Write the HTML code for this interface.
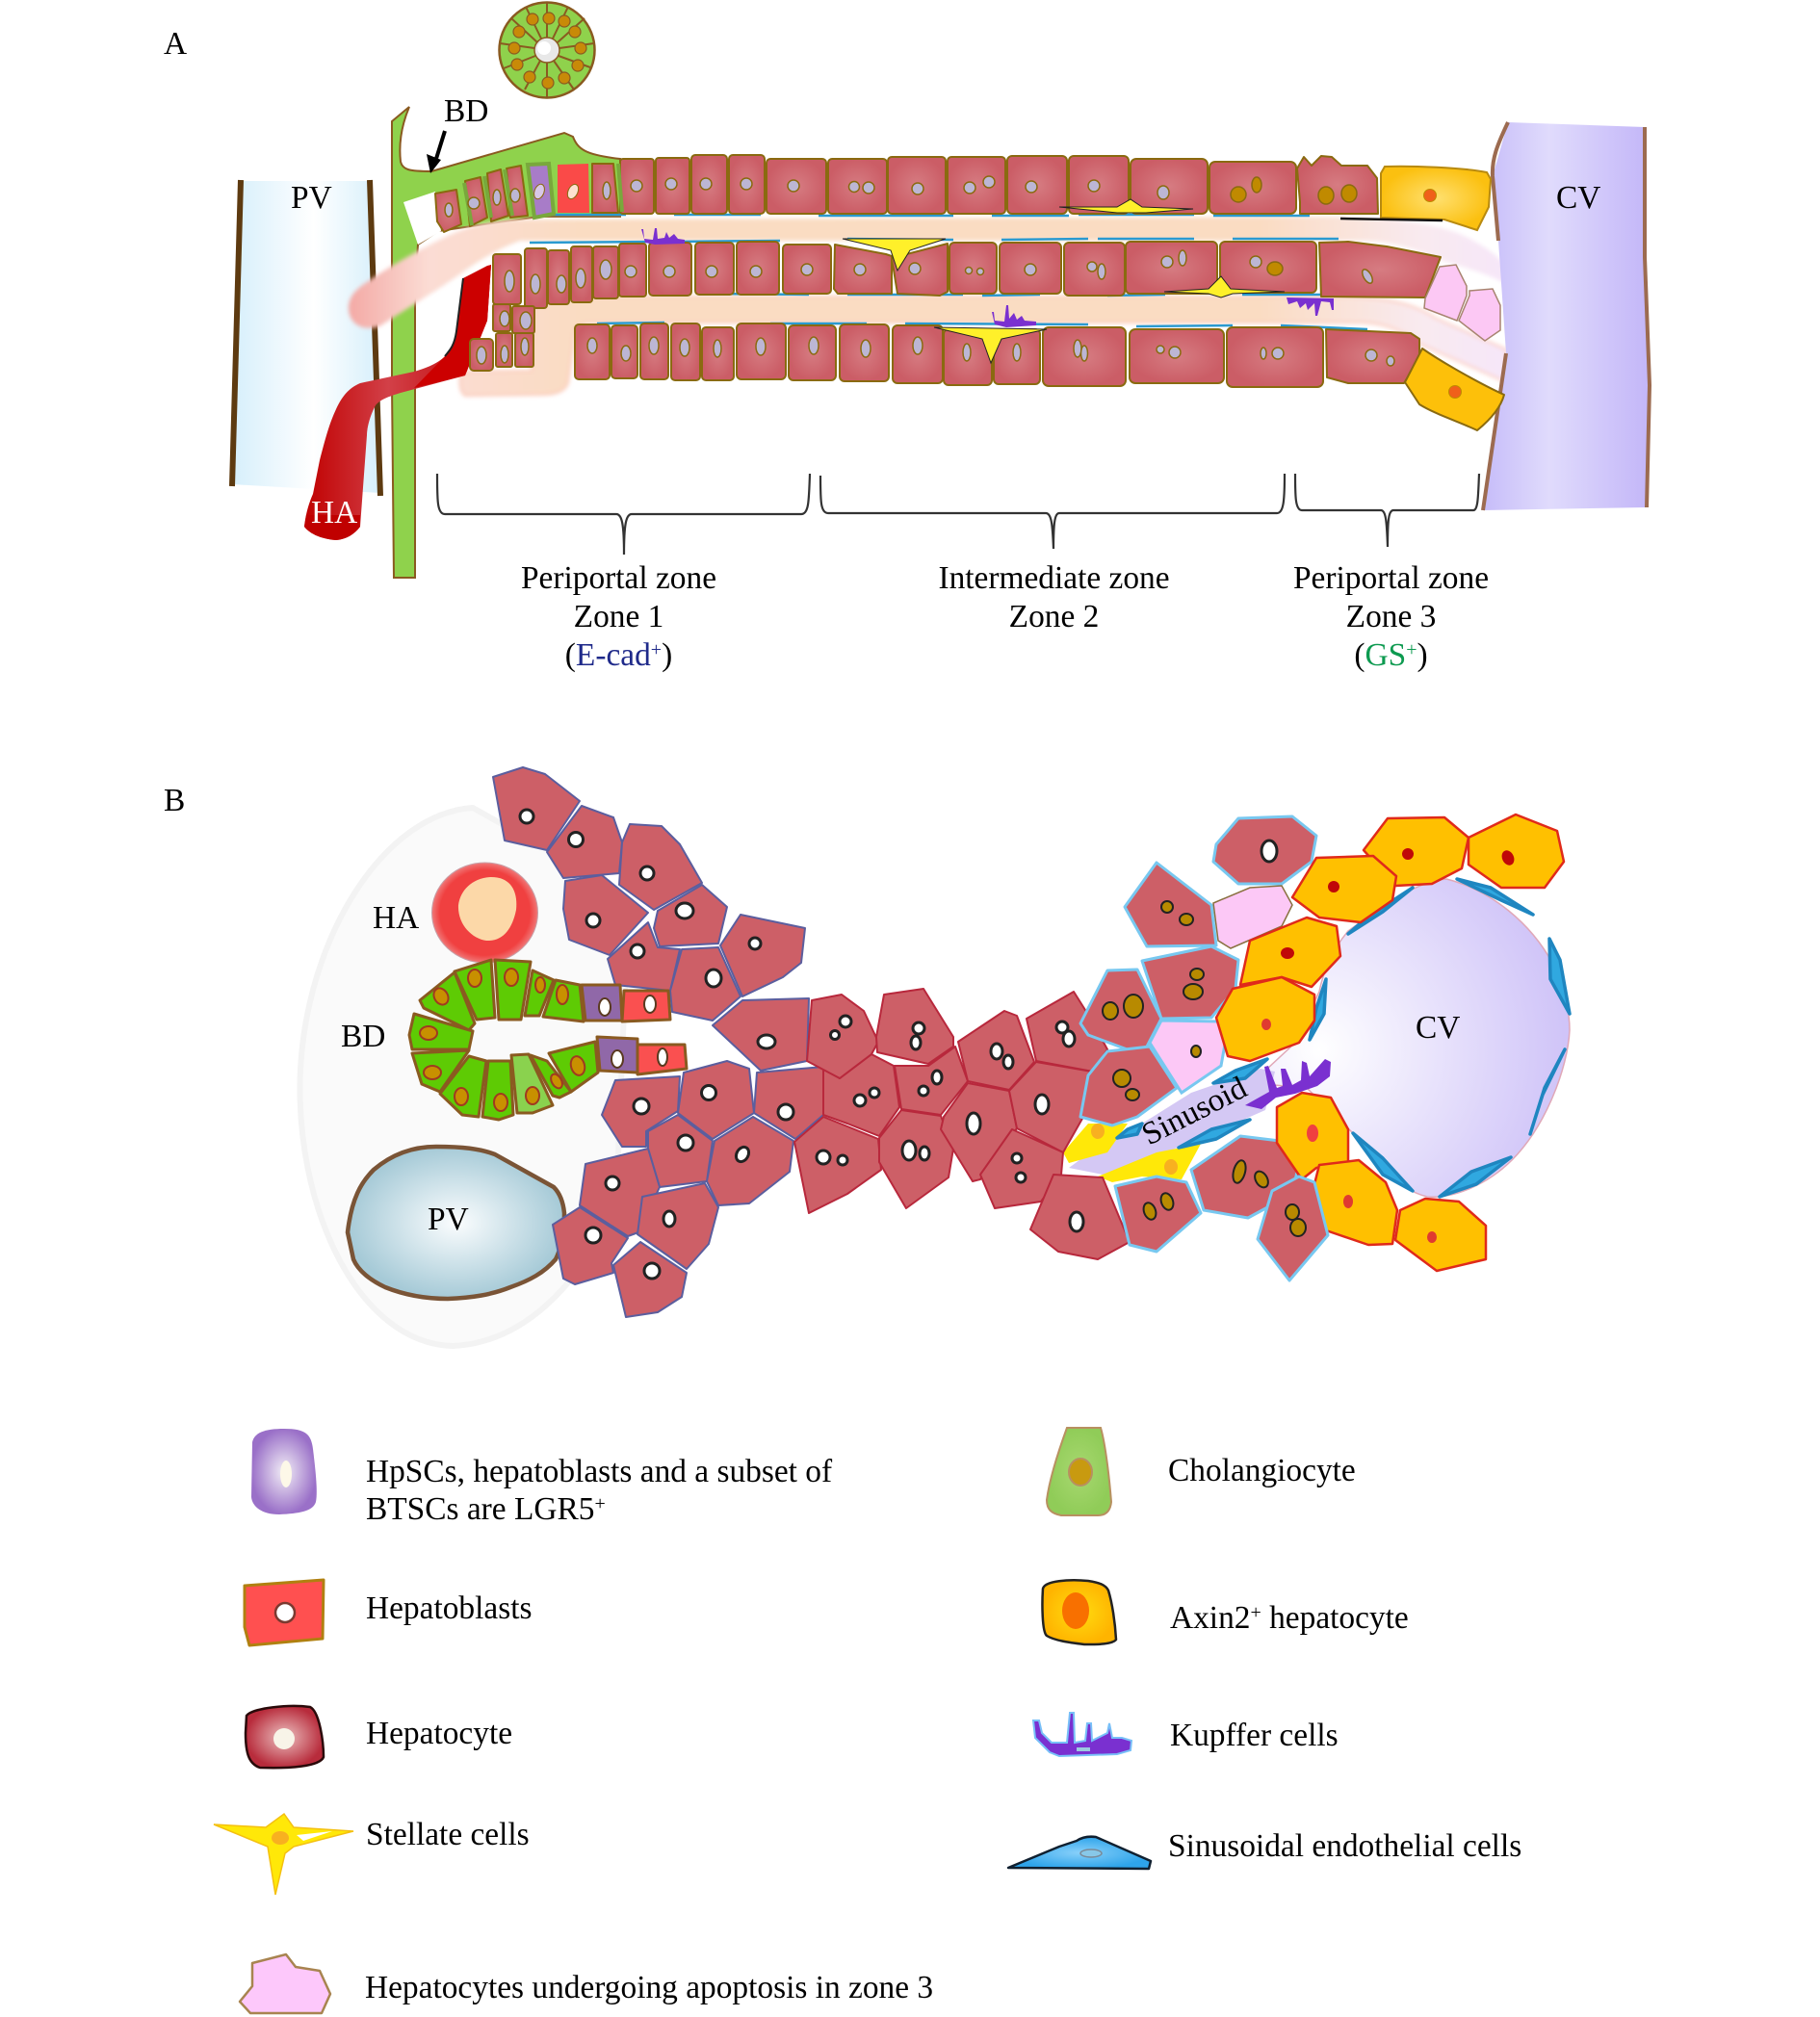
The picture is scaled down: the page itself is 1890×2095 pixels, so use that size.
<!DOCTYPE html>
<html><head><meta charset="utf-8"><title>Liver zonation</title>
<style>
html,body{margin:0;padding:0;background:#fff}
svg{display:block}
text{font-family:"Liberation Serif",serif;font-size:33.4px;fill:#000}
.h polygon{fill:#cd5f67;stroke:#5b5e9e;stroke-width:2;stroke-linejoin:round}
.hr polygon{fill:#cd5f67;stroke:#b8283c;stroke-width:2;stroke-linejoin:round}
.hb polygon{fill:#cd5f67;stroke:#78c8f0;stroke-width:3;stroke-linejoin:round}
.ax polygon{fill:#ffc000;stroke:#e02a1a;stroke-width:2.5;stroke-linejoin:round}
.bd polygon{fill:#5ecb04;stroke:#8a5a20;stroke-width:3;stroke-linejoin:round}
.wn ellipse,.wn circle{fill:#fff;stroke:#222;stroke-width:3}
.bn ellipse{fill:#b88a00;stroke:#222;stroke-width:2}
.on ellipse{fill:#c89000;stroke:#a03a20;stroke-width:2}
.en polygon{fill:#30a8e0;stroke:#1f86c0;stroke-width:3.5;stroke-linejoin:round}
.c rect,.c polygon{fill:url(#cg);stroke:#8a6a10;stroke-width:2;stroke-linejoin:round}
.n circle,.n ellipse{fill:#bcb6d4;stroke:#8a6a10;stroke-width:1.5}
.st polygon{fill:#fff02a;stroke:#222;stroke-width:1}
.bl path{fill:none;stroke:#2a9ad0;stroke-width:2.5}
.br path{fill:none;stroke:#333;stroke-width:2.2}
</style></head><body>
<svg xmlns="http://www.w3.org/2000/svg" width="1890" height="2095" viewBox="0 0 1890 2095">
<defs>
<linearGradient id="pv" x1="0" x2="1" y1="0" y2="0"><stop offset="0" stop-color="#d6effb"/><stop offset=".55" stop-color="#fff"/><stop offset="1" stop-color="#d6effb"/></linearGradient>
<linearGradient id="cvA" x1="0" x2="1" y1="0" y2="0"><stop offset="0" stop-color="#c6bcf9"/><stop offset=".4" stop-color="#e0dbfc"/><stop offset="1" stop-color="#c3b6f8"/></linearGradient>
<linearGradient id="band" gradientUnits="userSpaceOnUse" x1="360" x2="1575" y1="0" y2="0"><stop offset="0" stop-color="#f3a8a4"/><stop offset=".07" stop-color="#fbdcd4"/><stop offset=".2" stop-color="#fadcc2"/><stop offset=".78" stop-color="#fadcc2"/><stop offset=".92" stop-color="#f9eaf0"/><stop offset="1" stop-color="#f6e6fa"/></linearGradient>
<linearGradient id="ha" x1="0" x2="1" y1="0" y2="0"><stop offset="0" stop-color="#c00000"/><stop offset=".45" stop-color="#d24048"/><stop offset="1" stop-color="#c00000"/></linearGradient>
<radialGradient id="cg"><stop offset="0" stop-color="#d67c82"/><stop offset="1" stop-color="#cb5d66"/></radialGradient>
<radialGradient id="ya"><stop offset="0" stop-color="#ffe070"/><stop offset="1" stop-color="#fbc010"/></radialGradient>
<radialGradient id="pvb"><stop offset="0" stop-color="#fbfdfe"/><stop offset="1" stop-color="#a6cad7"/></radialGradient>
<radialGradient id="cvb" gradientUnits="userSpaceOnUse" cx="1370" cy="1090" r="260"><stop offset="0" stop-color="#fff"/><stop offset="1" stop-color="#cfc3f8"/></radialGradient>
<radialGradient id="hac"><stop offset=".85" stop-color="#f04040"/><stop offset="1" stop-color="#f07878"/></radialGradient>
<radialGradient id="lp"><stop offset="0" stop-color="#f2eef6"/><stop offset="1" stop-color="#9a70c8"/></radialGradient>
<radialGradient id="lh"><stop offset="0" stop-color="#ecc0c0"/><stop offset="1" stop-color="#b82c3c"/></radialGradient>
<radialGradient id="lg"><stop offset="0" stop-color="#a8d870"/><stop offset="1" stop-color="#90cc58"/></radialGradient>
<radialGradient id="ly"><stop offset="0" stop-color="#ffdc10"/><stop offset="1" stop-color="#ffb400"/></radialGradient>
<radialGradient id="lb"><stop offset="0" stop-color="#88d0fa"/><stop offset="1" stop-color="#2ea4ea"/></radialGradient>
<filter id="b3" x="-5%" y="-20%" width="110%" height="140%"><feGaussianBlur stdDeviation="2"/></filter>
</defs>

<!-- PANEL A -->
<text x="170" y="56">A</text>
<path d="M250 188 L384 188 L395 512 L241 503Z" fill="url(#pv)"/>
<path d="M250 187 L241 505 M384 187 L395 515" stroke="#5d3a10" stroke-width="6" fill="none"/>

<!-- portal bar / BD -->
<path d="M407 126 L425 111 C417 130 414 150 416 168 C418 176 424 178 448 178 L586 138 L595 142 C600 155 608 161 644 165 L644 225 L560 225 L455 240 L434 254 L431 300 L431 600 L409 600 L407 400Z" fill="#8fd24c" stroke="#8a5a20" stroke-width="2"/>
<polygon points="419,210 452,199 458,240 434,254" fill="#fff"/>

<!-- sinusoid bands -->
<path d="M381 293 C400 280 420 268 443 256 C470 242 490 232 530 228 L1380 225 C1450 226 1500 232 1530 250 C1555 264 1568 275 1572 300 C1550 285 1520 278 1496 270 C1470 258 1440 250 1415 250 L540 250 C500 265 480 285 452 302 L394 339 C375 345 362 335 362 320 C362 308 370 300 381 293Z" fill="url(#band)" filter="url(#b3)"/>
<path d="M483 411 C478 408 476 398 479 386 L552 385 L555 321 C558 312 568 308 580 308 L1400 308 C1440 309 1470 316 1490 330 L1564 363 L1564 397 L1474 357 C1460 345 1440 336 1415 335 L610 335 C598 337 595 345 595 360 L590 398 C586 408 575 410 560 410Z" fill="url(#band)" stroke="#fbc8b8" stroke-width="2" filter="url(#b3)"/>

<!-- HA -->
<path d="M316 547 C318 530 322 520 325 513 L332 478 C338 455 342 440 349 425 C355 412 362 403 374 398 L430 386 C450 380 458 375 465 367 C472 358 474 350 474 344 L481 289 L510 275 L506 333 L483 390 L416 408 C403 412 395 415 390 421 C384 432 381 445 381 452 L374 547 C368 555 360 560 349 561 C335 560 322 555 316 547Z" fill="url(#ha)"/>
<path d="M506 276 L510 275 L506 333 L483 390 L430 403 L465 367 C472 358 474 350 474 344 L481 289Z" fill="#cc0000"/>
<path d="M318 535 L374 535 L374 547 C368 555 360 560 349 561 C335 560 322 555 316 547Z" fill="#c00000"/>
<path d="M481 289 L474 344 C472 358 468 363 462 370" stroke="#222" stroke-width="2" fill="none"/>

<!-- CV -->
<path d="M1566 127 L1708 132 L1708 267 L1713 400 L1710 527 L1540 530 L1564 367 L1556 250 L1550 183Z" fill="url(#cvA)"/>
<path d="M1566 127 C1555 150 1549 165 1550 183 L1556 250 M1564 367 L1540 530 M1708 132 L1708 267 L1713 400 L1710 527" stroke="#9c6b50" stroke-width="4" fill="none"/>

<!-- endothelial lines -->
<g class="bl">
<path d="M560 223 L650 223 M700 223 L790 223 M850 224 L990 224 M1030 224 L1110 224 M1120 223 L1240 223 M1260 224 L1360 224"/>
<path d="M550 252 L680 251 M700 251 L810 250 M880 248 L990 249 M1040 249 L1130 248 M1140 248 L1240 248 M1280 248 L1390 248"/>
<path d="M740 305 L840 306 M880 306 L1000 306 M1020 307 L1080 306 M1150 307 L1210 306 M1290 306 L1390 306"/>
<path d="M620 336 L690 335 M800 336 L900 336 M940 336 L1130 337 M1180 339 L1280 338 M1330 338 L1420 342"/>
</g>

<!-- row 1 -->
<g class="c">
<polygon points="452,201 474,197 479,233 461,241 454,230"/>
<polygon points="483,188 499,184 506,226 488,235"/>
<polygon points="506,180 520,176 528,224 510,230"/>
<polygon points="526,175 541,172 548,224 530,226"/>
<polygon points="615,170 637,170 642,221 615,221"/>
<rect x="644" y="165" width="35" height="57" rx="3"/><rect x="681" y="164" width="35" height="58" rx="3"/>
<rect x="718" y="161" width="37" height="61" rx="4"/><rect x="757" y="161" width="37" height="61" rx="4"/>
<rect x="796" y="165" width="62" height="57" rx="4"/><rect x="860" y="165" width="61" height="57" rx="4"/>
<rect x="922" y="163" width="60" height="59" rx="4"/><rect x="984" y="163" width="60" height="59" rx="4"/>
<rect x="1046" y="162" width="62" height="60" rx="5"/><rect x="1110" y="162" width="62" height="60" rx="5"/>
<rect x="1174" y="165" width="80" height="57" rx="6"/><rect x="1256" y="168" width="90" height="54" rx="6"/>
<polygon points="1347,175 1354,163 1362,172 1372,162 1383,163 1393,172 1420,172 1430,185 1431,222 1350,222 1350,210"/>
</g>
<g fill="none" stroke="#79a83c" stroke-width="4"><path d="M482 190 L490 234 M503 183 L510 226 M524 176 L532 224 M642 170 L646 220"/></g>
<polygon points="548,171 570,170 575,222 555,226" fill="#a87cc8" stroke="#79a83c" stroke-width="4"/>
<polygon points="579,171 611,170 612,221 579,221" fill="#fa4a48"/>
<path d="M1438 173 C1465 172 1520 174 1544 179 L1548 186 L1546 215 L1534 239 L1500 228 L1434 226 L1434 180Z" fill="url(#ya)" stroke="#b88a10" stroke-width="2"/>
<path d="M1392 227 L1498 229" stroke="#111" stroke-width="2.5"/>

<!-- row 2 -->
<g class="c">
<rect x="512" y="264" width="29" height="52" rx="3"/><rect x="545" y="258" width="23" height="62" rx="3"/>
<rect x="569" y="260" width="22" height="56" rx="3"/><rect x="593" y="256" width="22" height="58" rx="3"/>
<rect x="616" y="256" width="26" height="54" rx="3"/><rect x="643" y="253" width="28" height="55" rx="3"/>
<rect x="674" y="252" width="44" height="55" rx="4"/><rect x="722" y="252" width="40" height="54" rx="4"/>
<rect x="765" y="251" width="44" height="55" rx="4"/><rect x="813" y="254" width="50" height="51" rx="4"/>
<polygon points="867,254 920,264 926,266 926,305 870,305 866,300"/>
<polygon points="926,268 984,253 984,303 976,307 932,305"/>
<rect x="986" y="252" width="49" height="53" rx="5"/><rect x="1038" y="252" width="64" height="53" rx="5"/>
<rect x="1105" y="252" width="63" height="55" rx="5"/><rect x="1169" y="251" width="95" height="54" rx="5"/>
<rect x="1267" y="251" width="100" height="53" rx="5"/>
<polygon points="1370,252 1400,251 1440,256 1496,267 1480,309 1372,308"/>
<rect x="512" y="316" width="18" height="28" rx="2"/><rect x="532" y="318" width="23" height="28" rx="2"/>
<rect x="488" y="352" width="24" height="33" rx="4"/><rect x="515" y="346" width="17" height="35" rx="2"/><rect x="535" y="346" width="19" height="35" rx="2"/>
</g>
<!-- row 3 -->
<g class="c">
<rect x="597" y="337" width="36" height="57" rx="4"/><rect x="635" y="338" width="27" height="55" rx="4"/>
<rect x="665" y="336" width="29" height="58" rx="4"/><rect x="697" y="336" width="30" height="59" rx="4"/>
<rect x="729" y="340" width="33" height="55" rx="4"/><rect x="765" y="336" width="51" height="58" rx="5"/>
<rect x="819" y="338" width="49" height="57" rx="5"/><rect x="872" y="337" width="51" height="59" rx="5"/>
<rect x="927" y="338" width="52" height="60" rx="5"/><rect x="980" y="342" width="50" height="58" rx="5"/>
<rect x="1032" y="342" width="48" height="57" rx="5"/><rect x="1083" y="340" width="86" height="61" rx="6"/>
<rect x="1173" y="342" width="98" height="56" rx="6"/><rect x="1274" y="340" width="100" height="62" rx="6"/>
<polygon points="1377,342 1465,346 1474,352 1474,372 1458,398 1400,398 1378,392"/>
</g>
<path d="M1477 362 C1500 378 1540 400 1562 410 C1558 425 1545 438 1534 447 C1515 438 1490 430 1474 420 L1459 397Z" fill="#fdc00a" stroke="#8a6a10" stroke-width="2" stroke-linejoin="round"/>
<g fill="#fcc8f4" stroke="#a88470" stroke-width="1.5"><polygon points="1495,277 1512,275 1523,297 1523,307 1513,333 1479,320 1480,310"/><polygon points="1526,302 1550,300 1558,317 1558,343 1542,354 1515,333 1526,307"/></g>

<!-- nuclei A -->
<g class="n">
<ellipse cx="466" cy="218" rx="4" ry="7"/><circle cx="492" cy="211" r="6"/><ellipse cx="516" cy="205" rx="4" ry="8"/><ellipse cx="535" cy="203" rx="5" ry="7"/><ellipse cx="630" cy="198" rx="4" ry="9"/>
<circle cx="661" cy="193" r="6"/><circle cx="697" cy="191" r="6"/><circle cx="733" cy="191" r="6"/><circle cx="775" cy="191" r="6"/><circle cx="824" cy="193" r="6"/><circle cx="887" cy="194" r="5.5"/><circle cx="902" cy="195" r="6"/><circle cx="953" cy="196" r="6"/><circle cx="1007" cy="195" r="6"/><circle cx="1027" cy="189" r="6"/><circle cx="1071" cy="194" r="6"/><circle cx="1136" cy="193" r="6"/><ellipse cx="1208" cy="200" rx="6" ry="7"/>
<ellipse cx="529" cy="292" rx="5" ry="11"/><ellipse cx="556" cy="295" rx="5" ry="10"/><ellipse cx="583" cy="295" rx="5" ry="9"/><ellipse cx="603" cy="289" rx="5" ry="10"/><ellipse cx="629" cy="280" rx="6" ry="10"/><circle cx="655" cy="282" r="6"/><circle cx="695" cy="282" r="6"/><circle cx="739" cy="282" r="6"/><circle cx="785" cy="282" r="6"/><circle cx="838" cy="280" r="6"/><circle cx="893" cy="280" r="6"/><circle cx="950" cy="279" r="6"/><circle cx="1006" cy="281" r="3.5"/><circle cx="1018" cy="282" r="3.5"/><circle cx="1070" cy="280" r="6"/><circle cx="1134" cy="277" r="5"/><ellipse cx="1144" cy="282" rx="4" ry="8"/><circle cx="1212" cy="272" r="6"/><ellipse cx="1228" cy="268" rx="4" ry="8"/><circle cx="1304" cy="272" r="6"/><ellipse cx="1420" cy="287" rx="4" ry="8" transform="rotate(-30 1420 287)"/>
<ellipse cx="524" cy="331" rx="5" ry="8"/><ellipse cx="546" cy="333" rx="6" ry="9"/><ellipse cx="500" cy="369" rx="5" ry="9"/><ellipse cx="524" cy="368" rx="4" ry="9"/><ellipse cx="545" cy="360" rx="4" ry="9"/>
<ellipse cx="615" cy="359" rx="5" ry="8"/><ellipse cx="650" cy="367" rx="5" ry="8"/><ellipse cx="679" cy="359" rx="5" ry="9"/><ellipse cx="711" cy="361" rx="5" ry="9"/><ellipse cx="745" cy="362" rx="4" ry="9"/><ellipse cx="790" cy="360" rx="5" ry="9"/><ellipse cx="845" cy="359" rx="5" ry="9"/><ellipse cx="899" cy="362" rx="5" ry="9"/><ellipse cx="953" cy="359" rx="5" ry="9"/><ellipse cx="1004" cy="366" rx="4" ry="9"/><ellipse cx="1056" cy="366" rx="4" ry="9"/><ellipse cx="1119" cy="362" rx="4" ry="9"/><ellipse cx="1126" cy="367" rx="3.5" ry="8"/><circle cx="1205" cy="363" r="4"/><circle cx="1220" cy="366" r="6"/><ellipse cx="1312" cy="367" rx="3" ry="6"/><circle cx="1327" cy="367" r="6"/><circle cx="1424" cy="369" r="6"/><ellipse cx="1444" cy="375" rx="4" ry="5"/>
</g>
<ellipse cx="560" cy="199" rx="5" ry="8" fill="#d8c8e8" stroke="#8a6a10" transform="rotate(20 560 199)"/>
<ellipse cx="595" cy="199" rx="5" ry="8" fill="#fde0d0" stroke="#8a6a10" transform="rotate(25 595 199)"/>
<g fill="#c08a00" stroke="#8a6a10" stroke-width="1.5"><ellipse cx="1286" cy="202" rx="8" ry="8"/><ellipse cx="1305" cy="192" rx="5" ry="8"/><ellipse cx="1377" cy="203" rx="8" ry="9"/><ellipse cx="1401" cy="201" rx="8" ry="9"/><ellipse cx="1324" cy="279" rx="8" ry="7"/></g>
<circle cx="1485" cy="203" r="6.5" fill="#f0601a" stroke="#c08a00"/>
<circle cx="1511" cy="407" r="6.5" fill="#f0601a" stroke="#c08a00"/>

<!-- stellate A -->
<g class="st">
<polygon points="1100,215 1160,215 1174,207 1186,215 1239,217 1190,221 1160,221"/>
<polygon points="875,248 982,248 945,260 932,281 925,260"/>
<polygon points="1209,303 1255,300 1268,287 1278,300 1334,303 1280,305 1268,309 1255,305"/>
<polygon points="970,340 1087,342 1040,352 1029,377 1020,352"/>
</g>
<!-- Kupffer A -->
<g fill="#7a30d0"><path d="M666 238 L668 238 L669 248 L678 249 L680 237 L682 237 L683 248 L690 247 L692 241 L695 247 L700 243 L704 248 L711 249 L711 253 L680 254 L670 252Z"/>
<path d="M1030 324 L1032 324 L1033 333 L1043 334 L1045 317 L1047 317 L1048 331 L1053 325 L1056 332 L1061 328 L1064 333 L1076 334 L1076 338 L1045 340 L1033 337Z"/>
<path d="M1336 309 L1385 310 L1385 322 L1383 322 L1381 314 L1372 313 L1368 328 L1366 328 L1365 315 L1358 322 L1356 315 L1350 320 L1347 313 L1338 316Z"/></g>

<!-- brackets -->
<g class="br">
<path d="M454 492 C454 520 454 534 462 534 L640 534 C646 534 648 545 648 576 C648 545 650 534 656 534 L832 534 C840 534 840 520 841 492"/>
<path d="M852 494 C852 520 852 533 860 533 L1086 533 C1092 533 1093 545 1094 570 C1094 545 1095 533 1100 533 L1326 533 C1333 533 1334 520 1334 492"/>
<path d="M1345 492 C1345 515 1345 530 1352 530 L1434 530 C1439 530 1440 540 1441 568 C1441 540 1442 530 1447 530 L1530 530 C1535 530 1535 515 1536 492"/>
</g>

<!-- BD section -->
<circle cx="568" cy="52" r="49.5" fill="#8fd24c" stroke="#8a5a20" stroke-width="2.5"/>
<g stroke="#8a5a20" stroke-width="2" fill="none">
<path d="M568 39 L568 3 M574 40 L590 7 M579 44 L607 19 M581 50 L617 45 M580 58 L613 70 M575 63 L596 93 M568 65 L568 101 M561 63 L545 93 M556 58 L523 71 M555 50 L519 45 M558 44 L531 19 M562 40 L546 7"/>
</g>
<g fill="#c88a08" stroke="#8a5a20" stroke-width="1.2"><circle cx="570" cy="19" r="6"/><circle cx="586" cy="22" r="6"/><circle cx="597" cy="33" r="6"/><circle cx="603" cy="50" r="6"/><circle cx="600" cy="68" r="6"/><circle cx="586" cy="81" r="6"/><circle cx="569" cy="86" r="6"/><circle cx="550" cy="80" r="6"/><circle cx="537" cy="67" r="6"/><circle cx="534" cy="50" r="6"/><circle cx="539" cy="33" r="6"/><circle cx="553" cy="20" r="6"/></g>
<circle cx="568" cy="52" r="13" fill="#e8e8e8" stroke="#8a5a20" stroke-width="1.5"/>
<circle cx="565" cy="50" r="7" fill="#fff"/>
<!-- arrow -->
<path d="M462 136 L452 168" stroke="#000" stroke-width="4"/>
<polygon points="447,180 443,160 458,166" fill="#000"/>

<text x="461" y="126">BD</text><text x="302" y="216">PV</text>
<text x="323" y="543" style="fill:#fff">HA</text><text x="1616" y="216">CV</text>
<g text-anchor="middle">
<text x="642.5" y="611">Periportal zone</text><text x="642.5" y="651">Zone 1</text>
<text x="642.5" y="691">(<tspan style="fill:#1f2a8a">E-cad</tspan><tspan dy="-10" style="font-size:20px;fill:#1f2a8a">+</tspan><tspan dy="10">)</tspan></text>
<text x="1094.5" y="611">Intermediate zone</text><text x="1094.5" y="651">Zone 2</text>
<text x="1444.5" y="611">Periportal zone</text><text x="1444.5" y="651">Zone 3</text>
<text x="1444.5" y="691">(<tspan style="fill:#0d9a50">GS</tspan><tspan dy="-10" style="font-size:20px;fill:#0d9a50">+</tspan><tspan dy="10">)</tspan></text>
</g>

<!-- PANEL B -->
<text x="170" y="842">B</text>
<path d="M491 839 C400 845 320 970 312 1110 C305 1250 370 1395 470 1398 C540 1395 600 1340 640 1250 L650 1000 L600 900Z" fill="#fafafa" stroke="#f3f3f3" stroke-width="6"/>
<ellipse cx="503.5" cy="948" rx="55" ry="52" fill="url(#hac)" stroke="#c8a0a8" stroke-width="1"/>
<path d="M476 940 C478 925 490 912 510 911 C530 911 538 925 536 945 C532 965 522 978 505 977 C490 975 475 960 476 940Z" fill="#fcd8a8"/>
<path d="M361 1280 C365 1245 375 1228 388 1215 C408 1198 430 1191 453 1191 C480 1191 498 1193 514 1199 L575 1233 C582 1240 585 1250 586 1260 C586 1280 583 1296 577 1308 C565 1322 550 1330 530 1337 C510 1345 490 1348 465 1349 C440 1349 420 1345 400 1337 C385 1330 372 1320 367 1308Z" fill="url(#pvb)" stroke="#7a5436" stroke-width="4.5"/>

<!-- sinusoid + CV -->
<path d="M1502 913 C1550 925 1590 960 1612 1000 C1625 1030 1630 1050 1630 1070 C1628 1110 1605 1170 1570 1205 C1545 1230 1510 1245 1482 1243 C1450 1235 1425 1205 1405 1177 L1357 1130 L1300 1125 L1345 1083 L1370 1030 C1375 1005 1385 985 1400 967 C1430 945 1470 915 1502 913Z" fill="url(#cvb)" stroke="#e0a8b8" stroke-width="1.5"/>
<polygon points="1110,1213 1125,1202 1186,1167 1237,1135 1309,1110 1324,1113 1314,1153 1237,1187 1145,1220" fill="#d4c8f4"/>
<!-- stellate B -->
<polygon points="1104,1197 1130,1167 1171,1167 1150,1197 1110,1208" fill="#ffe808"/>
<polygon points="1140,1222 1201,1197 1247,1188 1227,1225 1186,1222 1155,1228" fill="#ffe808"/>
<ellipse cx="1140" cy="1175" rx="7" ry="8" fill="#f8b020"/><ellipse cx="1216" cy="1212" rx="7" ry="8" fill="#f8b020"/>
<!-- endothelial B -->
<g class="en">
<polygon points="1513,913 1548,922 1592,950 1559,935"/><polygon points="1467,922 1436,947 1400,970 1421,952"/>
<polygon points="1609,975 1620,997 1630,1053 1610,1017"/><polygon points="1625,1090 1604,1130 1589,1178 1602,1137"/>
<polygon points="1569,1202 1528,1217 1495,1243 1533,1230"/><polygon points="1405,1177 1436,1203 1467,1237 1436,1220"/>
<polygon points="1377,1017 1367,1047 1360,1080 1375,1053"/><polygon points="1316,1100 1283,1112 1260,1125 1293,1120"/>
<polygon points="1298,1163 1258,1173 1224,1192 1263,1183"/><polygon points="1186,1167 1171,1173 1160,1182 1181,1178"/>
</g>
<!-- Kupffer B -->
<path d="M1293 1148 L1318 1134 L1313 1108 L1317 1107 L1326 1130 L1332 1128 L1330 1110 L1335 1110 L1342 1127 L1351 1122 L1352 1102 L1357 1104 L1360 1118 L1376 1100 L1382 1103 L1381 1118 L1368 1128 L1345 1136 L1325 1140 L1310 1152Z" fill="#7a30d0"/>

<!-- hepatocytes blue-purple outline -->
<g class="h">
<polygon points="512,807 543,797 566,804 602,832 568,883 524,873"/>
<polygon points="604,837 637,849 646,875 643,907 585,912 568,885"/>
<polygon points="654,856 687,858 706,877 729,917 679,945 643,919 646,875"/>
<polygon points="587,915 625,909 673,948 633,992 591,976 585,944"/>
<polygon points="683,946 729,919 755,942 746,980 685,983 679,964"/>
<polygon points="673,958 683,984 706,986 696,1029 639,1023 631,996"/>
<polygon points="708,986 746,984 769,1035 740,1060 698,1051 696,1029"/>
<polygon points="769,950 836,964 832,1000 813,1015 771,1035 748,982"/>
<polygon points="771,1039 840,1037 838,1102 790,1112 740,1065"/>
<polygon points="639,1122 706,1118 704,1154 671,1175 671,1191 646,1191 625,1158"/>
<polygon points="710,1114 755,1102 778,1110 783,1156 740,1183 704,1156"/>
<polygon points="786,1114 855,1108 855,1158 826,1183 783,1156"/>
<polygon points="704,1158 740,1185 734,1227 685,1233 673,1193 673,1175"/>
<polygon points="742,1185 782,1160 824,1185 820,1217 778,1250 746,1252 734,1227"/>
<polygon points="608,1209 673,1193 685,1233 663,1280 652,1284 602,1252"/>
<polygon points="667,1243 732,1229 746,1254 736,1292 713,1318 662,1282"/>
<polygon points="602,1254 652,1286 635,1312 637,1322 597,1334 585,1328 574,1272"/>
<polygon points="637,1314 665,1290 713,1322 708,1347 683,1363 650,1368"/>
</g>
<g class="hr">
<polygon points="855,1108 872,1120 905,1095 928,1107 934,1150 913,1180 880,1167 855,1158"/>
<polygon points="825,1186 855,1160 880,1170 912,1183 915,1215 880,1240 840,1260"/>
<polygon points="843,1039 874,1033 897,1050 912,1082 905,1095 872,1120 838,1102"/>
<polygon points="918,1033 959,1027 990,1077 990,1087 964,1105 911,1093 910,1077"/>
<polygon points="929,1107 964,1107 992,1087 1005,1123 977,1158 936,1152"/>
<polygon points="936,1153 977,1159 990,1193 985,1223 941,1255 913,1207 913,1182"/>
<polygon points="995,1082 1043,1050 1056,1055 1074,1103 1048,1132 1005,1123"/>
<polygon points="1005,1125 1048,1133 1056,1172 1018,1225 1010,1227 977,1173 980,1160"/>
<polygon points="1066,1058 1115,1030 1132,1057 1150,1090 1135,1113 1076,1102"/>
<polygon points="1076,1103 1134,1113 1125,1160 1104,1197 1056,1172 1048,1133"/>
<polygon points="1051,1173 1104,1197 1102,1220 1081,1248 1033,1255 1018,1220"/>
<polygon points="1094,1220 1145,1223 1173,1290 1140,1308 1099,1300 1070,1277"/>
</g>
<g class="hb">
<polygon points="1158,1232 1201,1222 1232,1228 1247,1260 1201,1300 1173,1293 1160,1240"/>
<polygon points="1237,1215 1288,1180 1329,1185 1347,1217 1342,1240 1296,1265 1250,1257"/>
<polygon points="1201,896 1258,940 1263,982 1191,983 1168,942"/>
<polygon points="1286,850 1342,848 1367,868 1362,895 1331,918 1286,918 1260,895 1263,877"/>
<polygon points="1186,998 1258,983 1286,997 1283,1027 1258,1057 1206,1058"/>
<polygon points="1150,1008 1181,1007 1206,1058 1191,1087 1176,1092 1130,1075 1122,1063"/>
<polygon points="1150,1092 1194,1087 1222,1130 1181,1160 1155,1169 1122,1160 1130,1117"/>
</g>
<polygon points="1298,922 1331,920 1342,940 1331,962 1278,985 1265,977 1260,938" fill="#fcc8f6" stroke="#8a7040" stroke-width="1.5"/>
<polygon points="1206,1060 1268,1061 1275,1068 1268,1107 1227,1135 1194,1083" fill="#fcc8f6" stroke="#78c8f0" stroke-width="3"/>
<!-- axin -->
<g class="ax">
<polygon points="1326,1150 1352,1135 1382,1140 1400,1173 1400,1207 1367,1213 1352,1225 1326,1187"/>
<polygon points="1441,850 1500,849 1525,870 1518,902 1487,918 1449,920 1416,883"/>
<polygon points="1574,846 1617,863 1624,895 1604,922 1559,922 1525,898 1525,870"/>
<polygon points="1367,891 1426,889 1450,910 1446,935 1413,958 1370,953 1342,932"/>
<polygon points="1357,953 1388,962 1392,993 1362,1025 1331,1015 1288,1023 1298,977"/>
<polygon points="1331,1015 1365,1033 1365,1060 1349,1083 1298,1102 1275,1097 1263,1057 1280,1027"/>
<polygon points="1370,1210 1411,1205 1439,1228 1451,1257 1446,1292 1421,1293 1377,1278 1365,1230"/>
<polygon points="1480,1245 1515,1248 1543,1273 1543,1308 1492,1320 1449,1288 1454,1257"/>
</g>
<g class="hb"><polygon points="1321,1237 1349,1222 1365,1228 1379,1283 1339,1330 1306,1287"/></g>

<!-- nuclei B -->
<g class="wn">
<circle cx="547" cy="848" r="7"/><circle cx="598" cy="872" r="7.5"/><circle cx="672" cy="907" r="7"/><circle cx="616" cy="956" r="7"/><ellipse cx="711" cy="946" rx="9" ry="8"/><circle cx="662" cy="988" r="7"/><ellipse cx="741" cy="1016" rx="8" ry="9"/><circle cx="784" cy="980" r="6"/><ellipse cx="796" cy="1082" rx="9" ry="7"/>
<circle cx="666" cy="1149" r="8"/><circle cx="736" cy="1135" r="7.5"/><ellipse cx="816" cy="1155" rx="8" ry="8"/><circle cx="712" cy="1187" r="8"/><ellipse cx="771" cy="1199" rx="6" ry="8" transform="rotate(30 771 1199)"/><circle cx="636" cy="1229" r="7"/><ellipse cx="695" cy="1266" rx="6" ry="8"/><circle cx="616" cy="1283" r="8"/><circle cx="677" cy="1320" r="8"/>
<circle cx="878" cy="1061" r="6"/><circle cx="867" cy="1075" r="4.5"/><circle cx="855" cy="1202" r="7"/><circle cx="875" cy="1205" r="5"/>
<ellipse cx="954" cy="1068" rx="6" ry="6"/><ellipse cx="951" cy="1083" rx="5" ry="7"/><ellipse cx="973" cy="1119" rx="5" ry="7"/><circle cx="959" cy="1133" r="5"/><circle cx="908" cy="1135" r="5"/><circle cx="893" cy="1143" r="6"/>
<ellipse cx="944" cy="1195" rx="7" ry="10"/><ellipse cx="960" cy="1198" rx="5" ry="7"/><ellipse cx="1035" cy="1092" rx="6" ry="8"/><ellipse cx="1047" cy="1103" rx="5" ry="7"/><ellipse cx="1011" cy="1167" rx="7" ry="11"/><ellipse cx="1103" cy="1067" rx="6" ry="6"/><ellipse cx="1110" cy="1079" rx="6" ry="8"/><ellipse cx="1082" cy="1147" rx="7" ry="10"/><circle cx="1056" cy="1203" r="5"/><circle cx="1060" cy="1223" r="5"/><ellipse cx="1118" cy="1269" rx="7" ry="10"/><ellipse cx="1318" cy="884" rx="8" ry="11"/>
</g>
<g class="bn">
<ellipse cx="1194" cy="1258" rx="6" ry="9" transform="rotate(-20 1194 1258)"/><ellipse cx="1212" cy="1248" rx="6" ry="9" transform="rotate(-20 1212 1248)"/><ellipse cx="1287" cy="1217" rx="6" ry="12" transform="rotate(15 1287 1217)"/><ellipse cx="1310" cy="1225" rx="6" ry="9" transform="rotate(-30 1310 1225)"/><ellipse cx="1342" cy="1259" rx="7" ry="8"/><ellipse cx="1348" cy="1275" rx="8" ry="9"/><ellipse cx="1212" cy="942" rx="6" ry="6"/><ellipse cx="1232" cy="955" rx="7" ry="6"/><ellipse cx="1243" cy="1012" rx="7" ry="6"/><ellipse cx="1239" cy="1030" rx="10" ry="8"/><ellipse cx="1153" cy="1050" rx="8" ry="9"/><ellipse cx="1177" cy="1045" rx="10" ry="12"/><ellipse cx="1165" cy="1120" rx="9" ry="9"/><ellipse cx="1176" cy="1137" rx="7" ry="6"/><ellipse cx="1242" cy="1092" rx="5" ry="6"/>
</g>
<g fill="#c00808"><ellipse cx="1462" cy="887" rx="6" ry="6"/><ellipse cx="1566" cy="891" rx="6" ry="8" transform="rotate(-25 1566 891)"/><ellipse cx="1385" cy="921" rx="6" ry="6"/><ellipse cx="1337" cy="990" rx="7" ry="6"/></g>
<g fill="#e03a30"><ellipse cx="1315" cy="1064" rx="5" ry="6"/><ellipse cx="1363" cy="1177" rx="6" ry="9" fill="#f04040"/><ellipse cx="1400" cy="1248" rx="5" ry="7"/><ellipse cx="1487" cy="1285" rx="5" ry="6"/></g>

<!-- BD duct -->
<g class="bd">
<polygon points="436,1039 472,1010 493,1063 487,1070 440,1047"/>
<polygon points="472,1009 510,997 514,1057 495,1059"/>
<polygon points="514,997 551,999 541,1059 518,1059"/>
<polygon points="553,1008 575,1018 560,1055 545,1055"/>
<polygon points="577,1018 602,1023 606,1061 564,1056"/>
<polygon points="430,1053 491,1071 487,1090 428,1090 425,1075"/>
<polygon points="428,1094 487,1091 457,1134 438,1126"/>
<polygon points="487,1097 505,1102 497,1160 480,1158 457,1136"/>
<polygon points="507,1102 530,1102 533,1158 518,1163 501,1160"/>
<polygon points="531,1096 549,1095 574,1148 553,1156 537,1156" style="fill:#8ad24e"/>
<polygon points="551,1096 568,1102 593,1134 581,1140 574,1138"/>
<polygon points="570,1094 618,1082 621,1114 593,1134"/>
<polygon points="604,1023 644,1023 646,1060 608,1060" style="fill:#9068a8"/>
<polygon points="648,1029 694,1029 696,1059 646,1061" style="fill:#fa5050"/>
<polygon points="620,1077 662,1079 662,1114 623,1112" style="fill:#9068a8"/>
<polygon points="662,1085 711,1085 713,1110 662,1116" style="fill:#fa5050"/>
</g>
<g class="on">
<ellipse cx="458" cy="1035" rx="7" ry="9" transform="rotate(-30 458 1035)"/><ellipse cx="493" cy="1016" rx="7" ry="9"/><ellipse cx="531" cy="1015" rx="7" ry="9"/><ellipse cx="561" cy="1023" rx="5" ry="8"/><ellipse cx="584" cy="1033" rx="6" ry="10"/><ellipse cx="445" cy="1073" rx="9" ry="7"/><ellipse cx="449" cy="1114" rx="9" ry="7"/><ellipse cx="479" cy="1139" rx="7" ry="9"/><ellipse cx="520" cy="1145" rx="7" ry="9"/><ellipse cx="553" cy="1138" rx="7" ry="9"/><ellipse cx="578" cy="1123" rx="5" ry="8" transform="rotate(-30 578 1123)"/><ellipse cx="600" cy="1107" rx="7" ry="10" transform="rotate(-15 600 1107)"/>
</g>
<g fill="#fff" stroke="#5a3a20" stroke-width="2"><ellipse cx="628" cy="1046" rx="6" ry="9"/><ellipse cx="675" cy="1043" rx="6" ry="9"/><ellipse cx="641" cy="1100" rx="6" ry="9"/><ellipse cx="688" cy="1098" rx="5" ry="9"/></g>

<text x="387" y="964">HA</text><text x="354" y="1087">BD</text><text x="444" y="1277">PV</text><text x="1470" y="1078">CV</text>
<text x="1193" y="1190" transform="rotate(-27 1193 1190)">Sinusoid</text>

<!-- LEGEND LEFT -->
<path d="M262 1498 C264 1488 275 1484 295 1484 C318 1484 323 1490 325 1505 C328 1530 330 1550 328 1560 C325 1570 310 1572 290 1573 C272 1573 262 1565 261 1555Z" fill="url(#lp)"/>
<ellipse cx="297" cy="1531" rx="6" ry="14" fill="#fdf8e8"/>
<path d="M254 1647 L336 1641 L335 1702 L259 1709 L254 1690Z" fill="#ff5050" stroke="#b08010" stroke-width="3" stroke-linejoin="round"/>
<circle cx="296" cy="1675" r="10" fill="#fff" stroke="#7a3a30" stroke-width="2.5"/>
<path d="M256 1782 C262 1774 300 1770 322 1773 C332 1778 336 1810 336 1825 C332 1835 300 1837 270 1836 C258 1832 255 1820 255 1800Z" fill="url(#lh)" stroke="#2a0a0a" stroke-width="2.5"/>
<circle cx="295" cy="1806" r="11" fill="#f8f4e8"/>
<polygon points="222,1895 276,1898 295,1884 305,1898 367,1902 305,1918 296,1925 286,1968 278,1918" fill="#ffe808" stroke="#f4c010" stroke-width="1.5"/>
<ellipse cx="291" cy="1909" rx="9" ry="7" fill="#f8b020"/>
<polygon points="308,1906 345,1902 315,1912" fill="#fff"/>
<polygon points="262,2039 297,2030 307,2043 332,2047 343,2071 334,2091 260,2091 249,2079 262,2063" fill="#fdc8fb" stroke="#a88450" stroke-width="2.5" stroke-linejoin="round"/>
<text x="380" y="1539">HpSCs, hepatoblasts and a subset of</text>
<text x="380" y="1578">BTSCs are LGR5<tspan dy="-10" style="font-size:20px">+</tspan></text>
<text x="380" y="1681">Hepatoblasts</text>
<text x="380" y="1811">Hepatocyte</text>
<text x="380" y="1916">Stellate cells</text>
<text x="379" y="2075">Hepatocytes undergoing apoptosis in zone 3</text>

<!-- LEGEND RIGHT -->
<path d="M1108 1483 L1143 1483 C1148 1500 1152 1535 1154 1560 C1153 1570 1148 1574 1140 1574 L1102 1574 C1092 1572 1087 1568 1087 1558 C1090 1535 1100 1505 1108 1483Z" fill="url(#lg)" stroke="#b89060" stroke-width="2"/>
<ellipse cx="1122" cy="1529" rx="12" ry="14" fill="#c89a10" stroke="#b89060" stroke-width="2"/>
<path d="M1083 1650 C1085 1642 1110 1640 1130 1642 C1142 1644 1148 1646 1151 1652 C1155 1665 1158 1685 1159 1703 C1155 1708 1140 1708 1126 1708 C1110 1706 1095 1704 1087 1699 C1082 1695 1082 1665 1083 1650Z" fill="url(#ly)" stroke="#222" stroke-width="2.5" stroke-linejoin="round"/>
<ellipse cx="1117" cy="1673" rx="14" ry="19" fill="#f87000"/>
<path d="M1073 1787 L1079 1787 L1082 1800 L1092 1810 L1108 1810 L1111 1779 L1115 1779 L1116 1810 L1127 1808 L1129 1790 L1133 1790 L1134 1808 L1150 1800 L1152 1790 L1155 1805 L1165 1805 L1175 1808 L1174 1818 L1160 1822 L1100 1824 L1090 1820 L1075 1805Z" fill="#7a30d0" stroke="#78c0f8" stroke-width="2"/>
<rect x="1118" y="1815" width="14" height="4" fill="#9cc8e0"/>
<path d="M1047 1940 L1100 1918 L1118 1912 C1124 1908 1130 1907 1138 1908 L1195 1933 L1193 1941Z" fill="url(#lb)" stroke="#102030" stroke-width="2.5" stroke-linejoin="round"/>
<ellipse cx="1133" cy="1925" rx="11" ry="4" fill="#88c8e8" stroke="#7a8a98" stroke-width="1.5"/>
<text x="1213" y="1538">Cholangiocyte</text>
<text x="1215" y="1691">Axin2<tspan dy="-10" style="font-size:20px">+</tspan><tspan dy="10"> hepatocyte</tspan></text>
<text x="1215" y="1813">Kupffer cells</text>
<text x="1213" y="1928">Sinusoidal endothelial cells</text>
</svg>
</body></html>
